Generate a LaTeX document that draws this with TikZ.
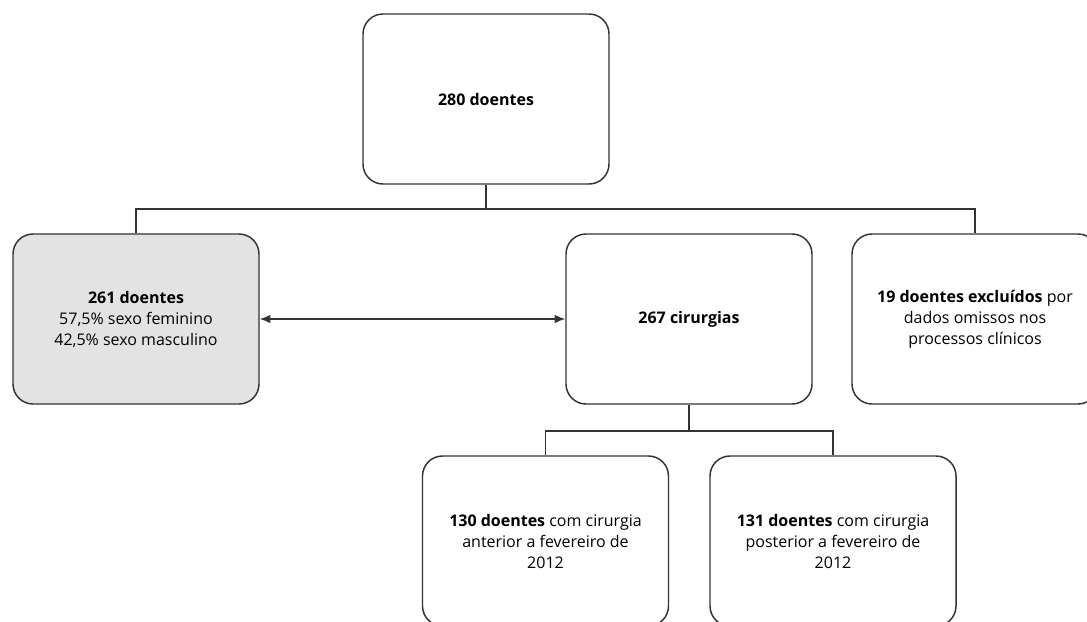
\documentclass[tikz,border=0pt]{standalone}
\usepackage{fontspec}
\setmainfont{Open Sans}
\usetikzlibrary{positioning, arrows.meta}
\definecolor{boxgray}{RGB}{227,227,227}
\definecolor{linegray}{RGB}{51,51,51}

\begin{document}
\begin{tikzpicture}[x=0.75pt, y=-0.75pt, >={Latex[length=8pt,width=6.5pt]},
    box/.style={draw=linegray, line width=1.1pt, rounded corners=15pt,
      minimum width=184.5pt, minimum height=127.5pt, align=center,
      font=\fontsize{12}{15.75}\selectfont},
    link/.style={draw=linegray, line width=1.1pt}]
    \clip (0,0) rectangle (1087,621);
    \node[box] (top) at (486,99) {\textbf{280 doentes}};
    \node[box, fill=boxgray] (left) at (136,319) {\textbf{261 doentes}\\57,5\% sexo feminino\\42,5\% sexo masculino};
    \node[box] (mid) at (689,319) {\textbf{267 cirurgias}};
    \node[box] (right) at (975,319) {\textbf{19 doentes excluídos} por\\dados omissos nos\\processos clínicos};
    \node[box] (ant) at (545.5,541) {\textbf{130 doentes} com cirurgia\\anterior a fevereiro de\\2012};
    \node[box] (post) at (833,541) {\textbf{131 doentes} com cirurgia\\posterior a fevereiro de\\2012};
    \coordinate (split) at (486,209);
    \coordinate (splitb) at (689,431);
    \draw[link] (top.south) -- (split) -| (left.north);
    \draw[link] (split) -| (right.north);
    \draw[link] (mid.south) -- (splitb) -| (ant.north);
    \draw[link] (splitb) -| (post.north);
    \draw[link, <->] (left.east) -- (mid.west);
  \end{tikzpicture}
\end{document}
